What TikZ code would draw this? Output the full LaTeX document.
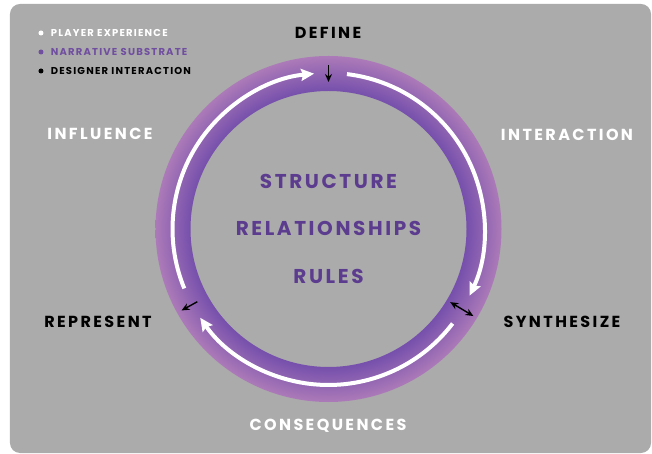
\documentclass[tikz,border=0pt]{standalone}
\usepackage{fontspec}
\setmainfont{Poppins}
\newfontfamily\stagefont{Poppins}[LetterSpace=15]
\newfontfamily\corefont{Poppins}[LetterSpace=13]
\newfontfamily\keyfont{Poppins}[LetterSpace=12]
\usepackage{tikz}
\usetikzlibrary{arrows.meta,positioning}
\definecolor{panel}{RGB}{171,171,171}
\definecolor{ringdark}{RGB}{118,80,172}
\definecolor{ringlight}{RGB}{172,122,184}
\definecolor{coretext}{RGB}{92,60,142}
\definecolor{keypurple}{RGB}{112,78,160}
\pgfdeclareradialshading{ringshade}{\pgfpointorigin}{color(0bp)=(ringdark); color(20bp)=(ringdark); color(25bp)=(ringlight); color(50bp)=(ringlight)}
\tikzstyle{stage} = [font=\stagefont\bfseries\fontsize{16}{19}\selectfont, inner sep=0pt]
\tikzstyle{core} = [font=\corefont\bfseries\fontsize{20}{24}\selectfont, text=coretext, inner sep=0pt]
\tikzstyle{key} = [font=\keyfont\bfseries\fontsize{10}{12}\selectfont, anchor=west, inner sep=0pt]
\tikzstyle{dot} = [circle, minimum size=5pt, inner sep=0pt]
\tikzset{
  flow/.style = {draw=white, line width=4pt, -{Stealth[length=13pt,width=12pt,inset=2pt]}},
  cue/.style = {draw=black, line width=1.4pt, -{Stealth[length=8pt,width=7pt]}}
}
\begin{document}
\begin{tikzpicture}[x=1pt, y=1pt, node distance=47.5pt]
   \useasboundingbox (-328.5,-225) rectangle (323.5,229);
   \fill[panel, rounded corners=10pt] (-318.5,-224) rectangle (322.5,225);
   % ring and player experience loop
   \shade[shading=ringshade, even odd rule] (0,0) circle (173) (0,0) circle (138);
   \draw[flow] (202.4:156) arc[start angle=202.4, end angle=95.3, radius=156];
   \draw[flow] (83.2:156) arc[start angle=83.2, end angle=-25.3, radius=156];
   \draw[flow] (-37.3:156) arc[start angle=-37.3, end angle=-145.3, radius=156];
   % designer interaction
   \coordinate (define_out) at (90:164);
   \coordinate (define_in) at (90:147);
   \coordinate (synth_in) at (-31:142);
   \coordinate (synth_out) at (-31:169);
   \coordinate (repr_in) at (209:150);
   \coordinate (repr_out) at (209:168);
   \path [cue] (define_out) -- (define_in);
   \path [cue, {Stealth[length=8pt,width=7pt]}-{Stealth[length=8pt,width=7pt]}] (synth_in) -- (synth_out);
   \path [cue] (repr_in) -- (repr_out);
   % stages
   \node [stage] (define) at (-0.5,196) {DEFINE};
   \node [stage, text=white] (interaction) at (238.5,94) {INTERACTION};
   \node [stage] (synthesize) at (233.5,-93) {SYNTHESIZE};
   \node [stage, text=white] (consequences) at (-0.5,-197) {CONSEQUENCES};
   \node [stage] (represent) at (-230.5,-93) {REPRESENT};
   \node [stage, text=white] (influence) at (-228.5,95) {INFLUENCE};
   % substrate
   \node [core] (structure) at (0,48) {STRUCTURE};
   \node [core, below of=structure] (relationships) {RELATIONSHIPS};
   \node [core, below of=relationships] (rules) {RULES};
   % legend
   \node [dot, fill=white] (dot_player) at (-287.5,196) {};
   \node [dot, fill=keypurple] (dot_narrative) at (-287.5,177) {};
   \node [dot, fill=black] (dot_designer) at (-287.5,158) {};
   \node [key, text=white, right=7pt of dot_player] (key_player) {PLAYER EXPERIENCE};
   \node [key, text=keypurple, right=7pt of dot_narrative] (key_narrative) {NARRATIVE SUBSTRATE};
   \node [key, text=black, right=7pt of dot_designer] (key_designer) {DESIGNER INTERACTION};
\end{tikzpicture}
\end{document}
